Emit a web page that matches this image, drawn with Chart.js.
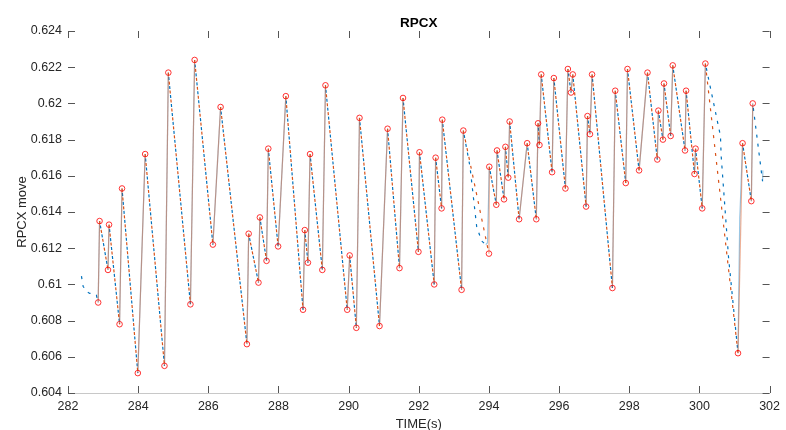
<!DOCTYPE html>
<html>
<head>
<meta charset="utf-8">
<script src="https://cdn.jsdelivr.net/npm/chart.js@4"></script>
<style>
    html, body { margin: 0; padding: 0; background: #fff; }
</style>
</head>
<body>
<canvas id="rpcx-chart" width="786" height="430"></canvas>
<script>
// 极值点（峰/谷）时间
const extTime = [
    282.86, 282.90, 283.14, 283.17, 283.47, 283.54, 283.99, 284.20, 284.75, 284.86,
    285.49, 285.61, 286.13, 286.35, 287.10, 287.15, 287.43, 287.47, 287.66, 287.71,
    287.99, 288.21, 288.70, 288.75, 288.84, 288.90, 289.25, 289.34, 289.96, 290.03,
    290.22, 290.31, 290.88, 291.11, 291.45, 291.55, 291.99, 292.02, 292.44, 292.48,
    292.65, 292.67, 293.22, 293.27, 294.00, 294.01, 294.21, 294.23, 294.43, 294.47,
    294.55, 294.59, 294.86, 295.09, 295.35, 295.40, 295.44, 295.49, 295.80, 295.85,
    296.18, 296.25, 296.34, 296.39, 296.77, 296.81, 296.88, 296.94, 297.52, 297.60,
    297.90, 297.95, 298.28, 298.52, 298.80, 298.83, 298.96, 298.99, 299.18, 299.24,
    299.59, 299.62, 299.86, 299.89, 300.08, 300.17, 301.10, 301.23, 301.48, 301.52
];
// 极值点数值
const extValue = [
    0.6090, 0.6135, 0.6108, 0.6133, 0.6078, 0.6153, 0.6051, 0.6172, 0.6055, 0.6217,
    0.6089, 0.6224, 0.6122, 0.6198, 0.6067, 0.6128, 0.6101, 0.6137, 0.6113, 0.6175,
    0.6121, 0.6204, 0.6086, 0.6130, 0.6112, 0.6172, 0.6108, 0.6210, 0.6086, 0.6116,
    0.6076, 0.6192, 0.6077, 0.6186, 0.6109, 0.6203, 0.6118, 0.6173, 0.6100, 0.6170,
    0.6142, 0.6191, 0.6097, 0.6185, 0.6117, 0.6165, 0.6144, 0.6174, 0.6147, 0.6176,
    0.6159, 0.6190, 0.6136, 0.6178, 0.6136, 0.6189, 0.6177, 0.6216, 0.6162, 0.6214,
    0.6153, 0.6219, 0.6206, 0.6216, 0.6143, 0.6193, 0.6183, 0.6216, 0.6098, 0.6207,
    0.6156, 0.6219, 0.6163, 0.6217, 0.6169, 0.6196, 0.6180, 0.6211, 0.6182, 0.6221,
    0.6174, 0.6207, 0.6161, 0.6175, 0.6142, 0.6222, 0.6062, 0.6178, 0.6146, 0.6200
];

// 原始信号
const rawTime = [
    282.37, 282.38, 282.43, 282.53, 282.62, 282.72, 282.81,
    282.86, 282.90, 283.14, 283.17, 283.47, 283.54, 283.99, 284.20, 284.75, 284.86,
    285.49, 285.61, 286.13, 286.35, 287.10, 287.15, 287.43, 287.47, 287.66, 287.71,
    287.99, 288.21, 288.70, 288.75, 288.84, 288.90, 289.25, 289.34, 289.96, 290.03,
    290.22, 290.31, 290.88, 291.11, 291.45, 291.55, 291.99, 292.02, 292.44, 292.48,
    292.65, 292.67, 293.22, 293.27, 293.46, 293.65, 293.79, 293.91, 293.96, 294.01,
    294.21, 294.23, 294.43, 294.47, 294.55, 294.59, 294.86, 295.09, 295.35, 295.40,
    295.44, 295.49, 295.80, 295.85, 296.18, 296.25, 296.34, 296.39, 296.77, 296.81,
    296.88, 296.94, 297.52, 297.60, 297.90, 297.95, 298.28, 298.52, 298.80, 298.83,
    298.96, 298.99, 299.18, 299.24, 299.59, 299.62, 299.86, 299.89, 300.08, 300.17,
    300.60, 300.62, 300.83, 301.10, 301.15, 301.16, 301.23, 301.48, 301.52, 301.80,
    301.81
];
const rawValue = [
    0.6107, 0.6105, 0.6099, 0.6096, 0.6095, 0.6095, 0.6094,
    0.6090, 0.6135, 0.6108, 0.6133, 0.6078, 0.6153, 0.6051, 0.6172, 0.6055, 0.6217,
    0.6089, 0.6224, 0.6122, 0.6198, 0.6067, 0.6128, 0.6101, 0.6137, 0.6113, 0.6175,
    0.6121, 0.6204, 0.6086, 0.6130, 0.6112, 0.6172, 0.6108, 0.6210, 0.6086, 0.6116,
    0.6076, 0.6192, 0.6077, 0.6186, 0.6109, 0.6203, 0.6118, 0.6173, 0.6100, 0.6170,
    0.6142, 0.6191, 0.6097, 0.6185, 0.6165, 0.6132, 0.6124, 0.6122, 0.6123, 0.6165,
    0.6144, 0.6174, 0.6147, 0.6176, 0.6159, 0.6190, 0.6136, 0.6178, 0.6136, 0.6189,
    0.6177, 0.6216, 0.6162, 0.6214, 0.6153, 0.6219, 0.6206, 0.6216, 0.6143, 0.6193,
    0.6183, 0.6216, 0.6098, 0.6207, 0.6156, 0.6219, 0.6163, 0.6217, 0.6169, 0.6196,
    0.6180, 0.6211, 0.6182, 0.6221, 0.6174, 0.6207, 0.6161, 0.6175, 0.6142, 0.6222,
    0.6182, 0.6171, 0.6115, 0.6062, 0.6137, 0.6141, 0.6178, 0.6146, 0.6200, 0.6157,
    0.6163
];

// 坐标轴刻度
const xTicks = [282, 284, 286, 288, 290, 292, 294, 296, 298, 300, 302];
const yTicks = [0.604, 0.606, 0.608, 0.610, 0.612, 0.614, 0.616, 0.618, 0.620, 0.622, 0.624];
const yTickLabels = ['0.604', '0.606', '0.608', '0.61', '0.612', '0.614', '0.616', '0.618', '0.62', '0.622', '0.624'];

const toPoints = (xs, ys) => xs.map((x, i) => ({ x: x, y: ys[i] }));

const isRise = ctx => ctx.p1.parsed.y > ctx.p0.parsed.y;

// 上升段：淡色实线；下降段：虚线
const lineSegment = (solid, faded, dash) => ({
    borderColor: ctx => isRise(ctx) ? faded : solid,
    borderDash: ctx => isRise(ctx) ? [] : dash
});

// 刻度线朝内、标题、坐标轴名称
const framePlugin = {
    id: 'frame',
    afterDraw: (chart) => {
        const { ctx, chartArea: a, scales } = chart;
        ctx.save();
        ctx.lineWidth = 1;
        ctx.strokeStyle = '#c8c8c8';
        ctx.beginPath();
        ctx.moveTo(a.left, a.bottom + 0.5);
        ctx.lineTo(a.right, a.bottom + 0.5);
        ctx.stroke();

        ctx.strokeStyle = '#555';
        ctx.beginPath();
        xTicks.forEach(v => {
            const x = Math.round(scales.x.getPixelForValue(v)) + 0.5;
            ctx.moveTo(x, a.top); ctx.lineTo(x, a.top + 7);
            ctx.moveTo(x, a.bottom); ctx.lineTo(x, a.bottom - 7);
        });
        yTicks.forEach(v => {
            const y = Math.round(scales.y.getPixelForValue(v)) + 0.5;
            ctx.moveTo(a.left, y); ctx.lineTo(a.left + 7, y);
            ctx.moveTo(a.right, y); ctx.lineTo(a.right - 7, y);
        });
        ctx.stroke();

        const cx = (a.left + a.right) / 2;
        ctx.fillStyle = '#000';
        ctx.textAlign = 'center';
        ctx.textBaseline = 'alphabetic';
        ctx.font = 'bold 13.5px "Liberation Sans", Arial, sans-serif';
        ctx.fillText('RPCX', cx, 27);

        ctx.fillStyle = '#262626';
        ctx.font = '13px "Liberation Sans", Arial, sans-serif';
        ctx.fillText('TIME(s)', cx, 428);

        ctx.translate(26, (a.top + a.bottom) / 2);
        ctx.rotate(-Math.PI / 2);
        ctx.fillText('RPCX move', 0, 0);
        ctx.restore();
    }
};

const tickFont = { family: '"Liberation Sans", Arial, sans-serif', size: 12.5 };

new Chart(document.getElementById('rpcx-chart').getContext('2d'), {
    type: 'line',
    data: {
        datasets: [
            {
                label: 'extrema',
                data: toPoints(extTime, extValue),
                showLine: false,
                pointStyle: 'circle',
                pointRadius: 2.8,
                pointBorderWidth: 1,
                pointBorderColor: 'rgba(255, 0, 0, 0.8)',
                pointBackgroundColor: 'rgba(0, 0, 0, 0)'
            },
            {
                label: 'envelope',
                data: toPoints(extTime, extValue),
                borderColor: '#D95319',
                borderWidth: 1.2,
                borderDash: [3, 6],
                pointRadius: 0,
                tension: 0,
                segment: lineSegment('#D95319', 'rgba(217, 83, 25, 0.45)', [3, 6])
            },
            {
                label: 'raw',
                data: toPoints(rawTime, rawValue),
                borderColor: '#0072BD',
                borderWidth: 1.2,
                borderDash: [3, 6],
                borderDashOffset: 4.5,
                pointRadius: 0,
                tension: 0,
                segment: lineSegment('#0072BD', 'rgba(0, 114, 189, 0.4)', [3, 6])
            }
        ]
    },
    options: {
        responsive: false,
        animation: false,
        layout: { padding: { top: 31, right: 14, left: 0, bottom: 0 } },
        plugins: {
            legend: { display: false },
            tooltip: { enabled: false },
            title: { display: false }
        },
        scales: {
            x: {
                type: 'linear',
                min: 282,
                max: 302,
                grid: { display: false, drawTicks: false },
                border: { display: false },
                afterFit: s => { s.height = 37; },
                afterBuildTicks: s => { s.ticks = xTicks.map(v => ({ value: v })); },
                ticks: { font: tickFont, color: '#262626', padding: 6, maxRotation: 0, autoSkip: false }
            },
            y: {
                min: 0.604,
                max: 0.624,
                grid: { display: false, drawTicks: false },
                border: { display: false },
                afterFit: s => { s.width = 68; },
                afterBuildTicks: s => { s.ticks = yTicks.map(v => ({ value: v })); },
                ticks: {
                    font: tickFont,
                    color: '#262626',
                    padding: 6,
                    autoSkip: false,
                    callback: (v, i) => yTickLabels[i]
                }
            }
        }
    },
    plugins: [framePlugin]
});
</script>
</body>
</html>
